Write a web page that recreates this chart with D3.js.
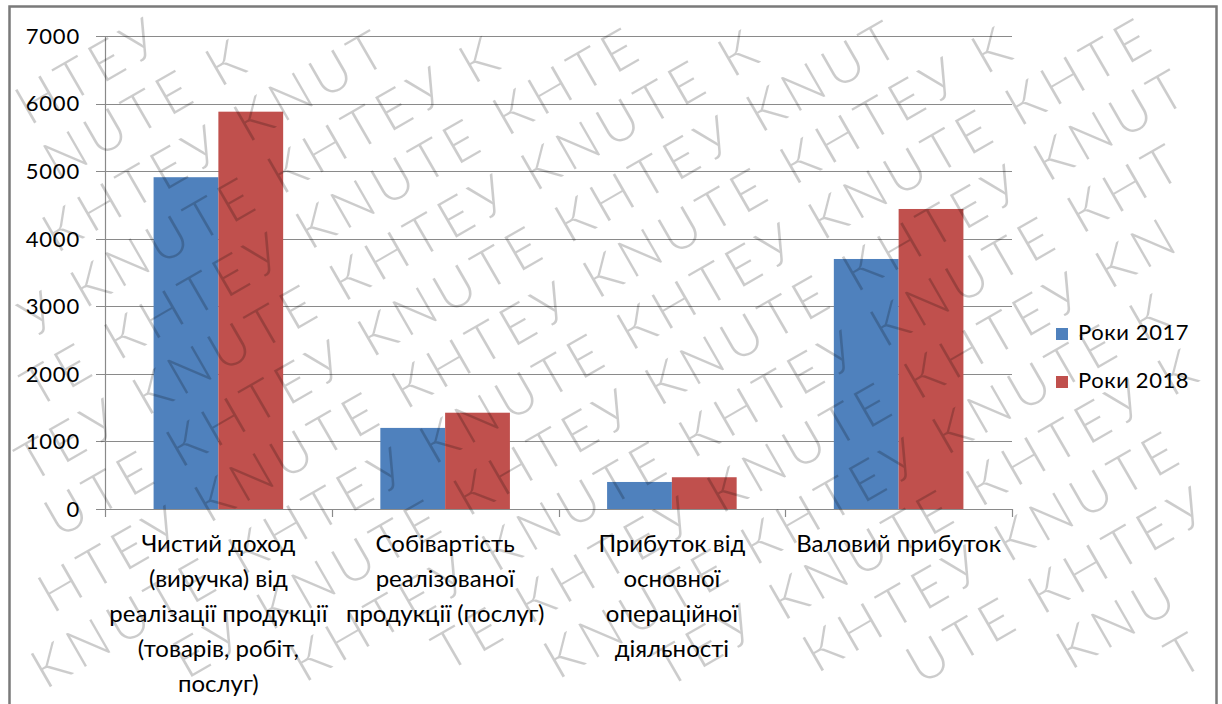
<!DOCTYPE html>
<html>
<head>
<meta charset="utf-8">
<script src="https://cdn.jsdelivr.net/npm/d3@7"></script>
<style>
  html, body { margin: 0; padding: 0; background: #fff; }
  svg { display: block; }
  text { font-family: Lato, "Open Sans", sans-serif; fill: #000; }
</style>
</head>
<body>
<svg id="chart" width="1222" height="704"></svg>
<script>
// Indicators (category labels, line breaks as printed under the axis)
const categories = [
  "Чистий доход\n(виручка) від\nреалізації продукції\n(товарів, робіт,\nпослуг)",
  "Собівартість\nреалізованої\nпродукції (послуг)",
  "Прибуток від\nосновної\nопераційної\nдіяльності",
  "Валовий прибуток"
];
const seriesNames = ["Роки 2017", "Роки 2018"];
const values2017 = [4910, 1200, 400, 3700];
const values2018 = [5880, 1425, 470, 4440];
const yTicks = [0, 1000, 2000, 3000, 4000, 5000, 6000, 7000];
const seriesColors = ["#4F81BD", "#C0504D"];
const watermarkWords = ["КНТЕУ", "KNUTE"];

const svg = d3.select("#chart");
const W = 1222, H = 704;

// Outer chart frame
svg.append("rect")
  .attr("x", 9.5).attr("y", 6.5)
  .attr("width", 1207).attr("height", 720)
  .attr("fill", "#fff")
  .attr("stroke", "#7a7a7a").attr("stroke-width", 2.5);

const plot = { left: 105, right: 1012, top: 36, bottom: 509 };

const y = d3.scaleLinear().domain([0, 7000]).range([plot.bottom, plot.top]);
const x = d3.scaleBand().domain(categories).range([plot.left, plot.right]).padding(0);
const x1 = d3.scaleBand().domain(seriesNames).range([0, x.bandwidth()])
  .paddingInner(0).paddingOuter(0.75);

// Horizontal gridlines (extend left past the axis as tick marks)
svg.append("g").selectAll("line").data(yTicks).join("line")
  .attr("x1", plot.left - 9).attr("x2", plot.right)
  .attr("y1", d => Math.round(y(d)) + 0.5).attr("y2", d => Math.round(y(d)) + 0.5)
  .attr("stroke", "#8a8a8a").attr("stroke-width", 1.2);

// Y tick labels
svg.append("g").selectAll("text").data(yTicks).join("text")
  .attr("x", 80).attr("y", d => y(d))
  .attr("dy", "0.36em")
  .attr("text-anchor", "end")
  .style("font-size", "22px")
  .style("letter-spacing", "0.8px")
  .text(d => d);

// Bars
const rows = categories.map((c, i) => ({ c, vals: [values2017[i], values2018[i]] }));
const barG = svg.append("g");
rows.forEach(r => {
  barG.selectAll(null).data(seriesNames).enter().append("rect")
    .attr("x", s => x(r.c) + x1(s))
    .attr("width", x1.bandwidth())
    .attr("y", (s, j) => y(r.vals[j]))
    .attr("height", (s, j) => y(0) - y(r.vals[j]))
    .attr("fill", (s, j) => seriesColors[j]);
});

// Y axis line
svg.append("line")
  .attr("x1", plot.left + 0.5).attr("x2", plot.left + 0.5)
  .attr("y1", plot.top).attr("y2", plot.bottom)
  .attr("stroke", "#8a8a8a").attr("stroke-width", 1.2);

// X axis line and category separators
svg.append("line")
  .attr("x1", plot.left).attr("x2", plot.right)
  .attr("y1", Math.round(y(0)) + 0.5).attr("y2", Math.round(y(0)) + 0.5)
  .attr("stroke", "#8a8a8a").attr("stroke-width", 1.2);
const bounds = categories.map(c => x(c)).concat([plot.right]);
svg.append("g").selectAll("line").data(bounds).join("line")
  .attr("x1", d => Math.round(d) + 0.5).attr("x2", d => Math.round(d) + 0.5)
  .attr("y1", plot.bottom).attr("y2", plot.bottom + 8)
  .attr("stroke", "#8a8a8a").attr("stroke-width", 1.2);

// Category labels
const catG = svg.append("g");
categories.forEach(c => {
  const cx = x(c) + x.bandwidth() / 2;
  const t = catG.append("text")
    .attr("x", cx).attr("y", 552)
    .attr("text-anchor", "middle")
    .style("font-size", "24px");
  c.split("\n").forEach((line, k) => {
    t.append("tspan").attr("x", cx).attr("dy", k === 0 ? 0 : 35).text(line);
  });
});

// Legend
const leg = svg.append("g");
seriesNames.forEach((s, i) => {
  const ly = 328 + i * 48;
  leg.append("rect").attr("x", 1056).attr("y", ly).attr("width", 12).attr("height", 12)
    .attr("fill", seriesColors[i]);
  leg.append("text").attr("x", 1078).attr("y", ly + 12)
    .style("font-size", "22px").style("letter-spacing", "0.6px").text(s);
});

// Diagonal watermark: slanted rows of alternating words, laid out letter by letter
// so that only glyphs lying fully on the sheet are drawn.
const wm = svg.append("g").style("pointer-events", "none");
const deg = 30, ang = deg * Math.PI / 180, ca = Math.cos(ang), sa = Math.sin(ang);
const rowGap = 62, fs = 54, ls = 6;
const toScreen = (u, v) => [u * ca + v * sa, -u * sa + v * ca];
const styleWm = sel => sel
  .style("font-size", fs + "px")
  .style("font-weight", 300)
  .style("letter-spacing", ls + "px");

// measure two copies of the word pair to get glyph offsets and the repeat period
const pair = watermarkWords.join(" ");
const probeText = pair + " " + pair;
const probe = styleWm(wm.append("text")).text(probeText);
const pn = probe.node();
const glyphs = [];
for (let i = 0; i < pair.length; i++) {
  if (pair[i] === " ") continue;
  const ext = pn.getExtentOfChar(i);
  glyphs.push({ ch: pair[i], dx: ext.x, w: ext.width, top: ext.y, bot: ext.y + ext.height });
}
const pairWidth = pn.getExtentOfChar(pair.length + 1).x - pn.getExtentOfChar(0).x;
probe.remove();

for (let r = -14; r < 28; r++) {
  const v = r * rowGap;
  const shift = (r % 2 ? 0 : pairWidth / 2) - 1200;
  for (let k = 0; k < 16; k++) {
    const u0 = shift + k * pairWidth;
    glyphs.forEach(g => {
      const u = u0 + g.dx;
      const corners = [[u, v + g.top], [u + g.w, v + g.top], [u, v + g.bot], [u + g.w, v + g.bot]]
        .map(([a, b]) => toScreen(a, b));
      const inside = corners.every(([px, py]) => px >= 0 && px <= W && py >= 0 && py <= H);
      if (!inside) return;
      const [sx, sy] = toScreen(u, v);
      styleWm(wm.append("text"))
        .attr("transform", `translate(${sx.toFixed(2)},${sy.toFixed(2)}) rotate(${-deg})`)
        .style("letter-spacing", "0px")
        .attr("fill", "#9a9a9a")
        .attr("fill-opacity", 0.2)
        .text(g.ch);
    });
  }
}
</script>
</body>
</html>
